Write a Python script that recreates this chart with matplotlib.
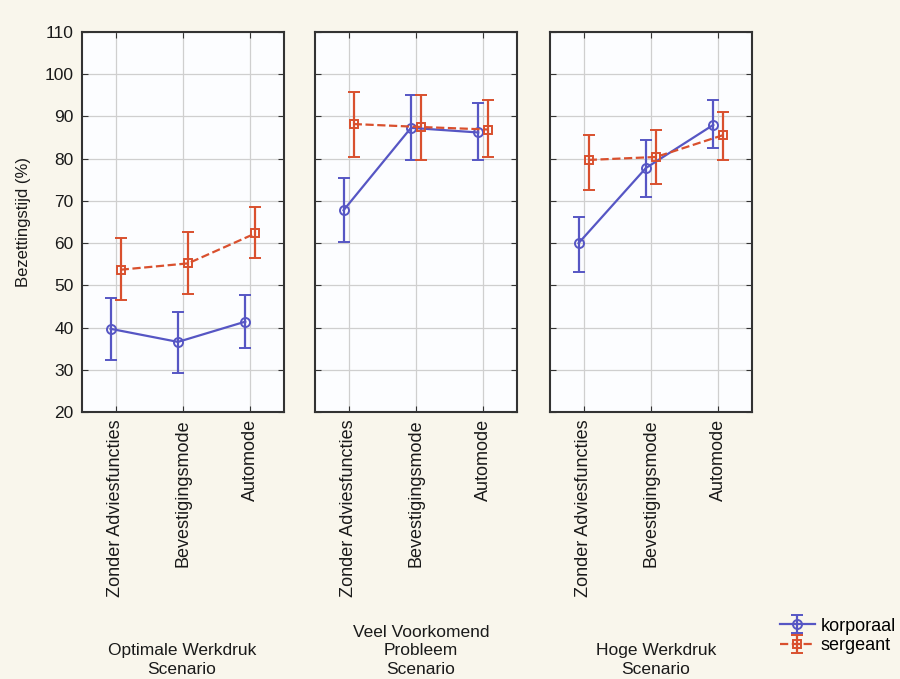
import numpy as np
import matplotlib
matplotlib.use("Agg")
import matplotlib.pyplot as plt

# Data
scenarios = ["Optimale Werkdruk\nScenario", "Veel Voorkomend\nProbleem\nScenario", "Hoge Werkdruk\nScenario"]
modes = ["Zonder Adviesfuncties", "Bevestigingsmode", "Automode"]

korporaal_mean = [[39.7, 36.6, 41.4], [67.8, 87.3, 86.2], [60.0, 77.8, 88.0]]
korporaal_lo = [[32.3, 29.2, 35.2], [60.3, 79.7, 79.7], [53.2, 70.9, 82.5]]
korporaal_hi = [[47.0, 43.7, 47.7], [75.4, 95.0, 93.2], [66.2, 84.4, 93.9]]

sergeant_mean = [[53.7, 55.2, 62.3], [88.2, 87.5, 86.9], [79.7, 80.4, 85.6]]
sergeant_lo = [[46.5, 47.9, 56.4], [80.4, 79.7, 80.4], [72.6, 74.0, 79.7]]
sergeant_hi = [[61.2, 62.6, 68.6], [95.8, 95.0, 93.9], [85.6, 86.8, 91.0]]

blue = "#5656c4"
red = "#d9502e"
bg = "#f9f6ec"
txt = "#1a1a1a"

plt.rcParams['font.family'] = ['Liberation Sans', 'DejaVu Sans']

fig = plt.figure(figsize=(9, 6.79), dpi=100, facecolor=bg)
W, H = 900, 679
lefts = [82, 315, 550]
width = 202
top, bottom = 32, 412

x = np.arange(len(modes))
off = 0.075
handles = None
for p in range(3):
    ax = fig.add_axes([lefts[p] / W, 1 - bottom / H, width / W, (bottom - top) / H])
    ax.set_facecolor("#fcfdff")
    km = np.array(korporaal_mean[p])
    sm = np.array(sergeant_mean[p])
    kerr = [km - np.array(korporaal_lo[p]), np.array(korporaal_hi[p]) - km]
    serr = [sm - np.array(sergeant_lo[p]), np.array(sergeant_hi[p]) - sm]
    h1 = ax.errorbar(x - off, km, yerr=kerr, color=blue, lw=1.6, marker="o", ms=6.5,
                     mfc="none", mec=blue, mew=1.4, capsize=4, elinewidth=1.6, capthick=1.4)
    h2 = ax.errorbar(x + off, sm, yerr=serr, color=red, lw=1.6, ls="--", marker="s", ms=6,
                     mfc="none", mec=red, mew=1.4, capsize=4, elinewidth=1.6, capthick=1.4)
    handles = [h1, h2]
    ax.set_xlim(-0.5, 2.5)
    ax.set_ylim(20, 110)
    ax.set_yticks(np.arange(20, 111, 10))
    ax.set_xticks(x)
    ax.set_xticklabels(modes, rotation=90, fontsize=13, color=txt)
    ax.grid(True, color="#cfcfcf", lw=0.9)
    ax.set_axisbelow(True)
    ax.tick_params(direction="in", length=4, top=True, right=True, color="#333333")
    ax.tick_params(axis="x", pad=5)
    for s in ax.spines.values():
        s.set_color("#333333")
        s.set_linewidth(1.5)
    if p == 0:
        ax.tick_params(axis="y", labelsize=12.5, labelcolor=txt, pad=6)
        ax.set_ylabel("Bezettingstijd (%)", fontsize=12, color=txt, labelpad=10)
    else:
        ax.set_yticklabels([])

# scenario labels under each panel
centers = [182, 421, 656]
bottoms = [677, 677, 677]
for c, b, lab in zip(centers, bottoms, scenarios):
    fig.text(c / W, 1 - b / H, lab, ha="center", va="bottom", fontsize=12.5,
             color=txt, linespacing=1.3)

fig.legend(handles, ["korporaal", "sergeant"], loc="center left",
           bbox_to_anchor=(764 / W, 1 - 636 / H), frameon=False, fontsize=13,
           handlelength=1.9, handletextpad=0.35, labelspacing=0.15)

fig.savefig("out.png", dpi=100, facecolor=bg)
